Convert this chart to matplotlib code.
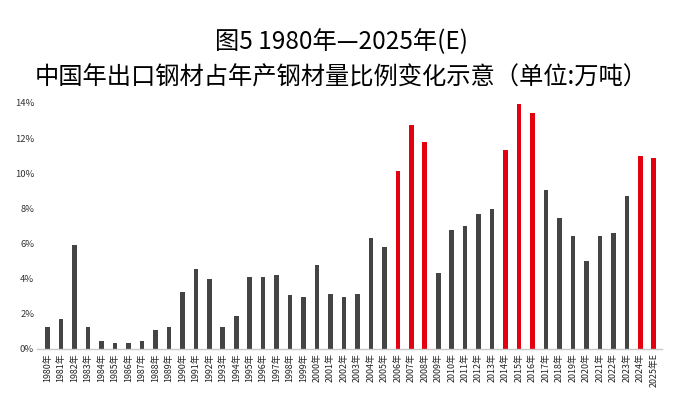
import numpy as np
import matplotlib.pyplot as plt
from matplotlib.ticker import FuncFormatter

plt.rcParams['font.family'] = ['Noto Sans CJK SC', 'DejaVu Sans']

years = list(range(1980, 2026))
ratio = [1.25, 1.7, 5.9, 1.25, 0.45, 0.35, 0.35, 0.45, 1.1, 1.25,
         3.25, 4.55, 4.0, 1.25, 1.85, 4.1, 4.1, 4.2, 3.05, 2.95,
         4.8, 3.15, 2.95, 3.1, 6.3, 5.8, 10.15, 12.75, 11.8, 4.3,
         6.75, 7.0, 7.7, 7.95, 11.3, 13.95, 13.4, 9.05, 7.45, 6.4,
         5.0, 6.45, 6.6, 8.7, 11.0, 10.85]
red_years = [2006, 2007, 2008, 2014, 2015, 2016, 2024, 2025]
labels = [f"{y}年" for y in years]
labels[-1] = "2025年E"

colors = ["#e3000f" if y in red_years else "#444444" for y in years]

fig = plt.figure(figsize=(6.83, 3.96), dpi=100)
ax = fig.add_axes([0.054, 0.119, 0.915, 0.621])

x = np.arange(len(years))
ax.bar(x, ratio, width=0.34, color=colors)

ax.set_xlim(-0.8, len(years) - 0.4)
ax.set_ylim(0, 14)
ax.set_yticks(np.arange(0, 15, 2))
ax.yaxis.set_major_formatter(FuncFormatter(lambda v, p: f"{v:.0f}%"))
ax.set_xticks(x)
ax.set_xticklabels(labels, rotation=90, fontsize=6.4)
ax.tick_params(axis='y', labelsize=6.8, length=0, colors="#333333", pad=2)
ax.tick_params(axis='x', length=0, pad=3, colors="#222222")

for s in ['top', 'right', 'left']:
    ax.spines[s].set_visible(False)
ax.spines['bottom'].set_color("#c8c8c8")
ax.spines['bottom'].set_linewidth(1.0)

fig.text(0.5, 0.895, "图5 1980年—2025年(E)", ha='center', va='center', fontsize=17.5)
fig.text(0.5, 0.805, "中国年出口钢材占年产钢材量比例变化示意（单位:万吨）",
         ha='center', va='center', fontsize=17.5)

fig.savefig("out.png", dpi=100)
